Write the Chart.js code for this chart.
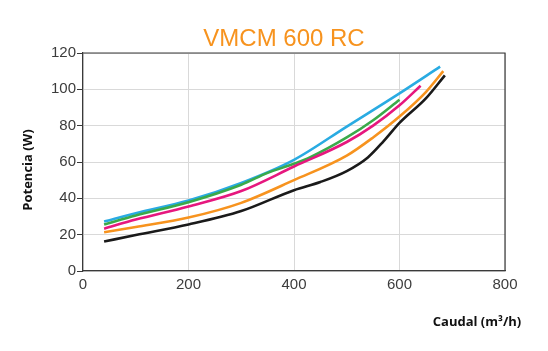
<!DOCTYPE html>
<html>
<head>
<meta charset="utf-8">
<script src="https://cdn.jsdelivr.net/npm/chart.js@4.4.0/dist/chart.umd.min.js"></script>
<style>
  html, body { margin: 0; padding: 0; background: #fff; }
  #wrap { width: 548px; height: 351px; }
</style>
</head>
<body>
<div id="wrap"><canvas id="potenciaChart" width="548" height="351"></canvas></div>
<script>
// curvas: [caudal m3/h, potencia W]
const curvaNegra = [[40,16.2],[100,19.8],[200,25.6],[300,33],[400,44.5],[450,49],[500,55],[540,62.5],[570,71.5],[600,81.5],[650,95],[686,107.7]];
const curvaNaranja = [[40,21.3],[100,24.2],[200,29.4],[300,37.5],[400,50],[500,63.5],[550,73.5],[600,85],[650,98.5],[683,110]];
const curvaMagenta = [[40,23.3],[100,28.3],[200,35.5],[300,44],[400,57.5],[500,71],[550,80],[600,91.2],[640,102]];
const curvaVerde = [[40,25.6],[100,30.6],[200,37.9],[300,47.5],[350,54],[400,59],[430,62.5],[500,73.5],[550,83],[600,94.3]];
const curvaAzul = [[40,27.2],[100,31.8],[200,38.8],[300,48.5],[400,61.2],[500,79.5],[600,97.8],[677,112.5]];

const xTicks = [0, 200, 400, 600, 800];
const yTicks = [0, 20, 40, 60, 80, 100, 120];

const titulo = 'VMCM 600 RC';
const tituloX = 'Caudal (m³/h)';
const tituloY = 'Potencia (W)';

const toPts = arr => arr.map(p => ({ x: p[0], y: p[1] }));

const serie = (data, color) => ({
  data: toPts(data),
  borderColor: color,
  borderWidth: 2.6,
  pointRadius: 0,
  fill: false,
  cubicInterpolationMode: 'monotone'
});

// titulo, nombres de ejes y marco
const textosPlugin = {
  id: 'textos',
  afterDraw(chart) {
    const ctx = chart.ctx;
    const a = chart.chartArea;
    ctx.save();
    ctx.strokeStyle = '#3a3a3a';
    ctx.lineWidth = 1.2;
    ctx.beginPath();
    ctx.moveTo(a.left, a.top);
    ctx.lineTo(a.right, a.top);
    ctx.lineTo(a.right, a.bottom);
    ctx.stroke();

    ctx.fillStyle = '#f7931e';
    ctx.font = '24px "Liberation Sans", Arial, sans-serif';
    ctx.textAlign = 'center';
    ctx.textBaseline = 'middle';
    ctx.fillText(titulo, 284, 39);

    ctx.fillStyle = '#111';
    ctx.font = 'bold 13px "Open Sans", "Liberation Sans", sans-serif';
    ctx.fillText(tituloX, 477, 322);

    ctx.translate(28, 170);
    ctx.rotate(-Math.PI / 2);
    ctx.fillText(tituloY, 0, 0);
    ctx.restore();
  }
};

new Chart(document.getElementById('potenciaChart'), {
  type: 'line',
  data: {
    datasets: [
      serie(curvaNegra, '#1a1a1a'),
      serie(curvaNaranja, '#f7931e'),
      serie(curvaMagenta, '#e6177e'),
      serie(curvaVerde, '#3aaa4a'),
      serie(curvaAzul, '#29abe2')
    ]
  },
  options: {
    responsive: false,
    animation: false,
    layout: { padding: { top: 53, right: 43, left: 0, bottom: 0 } },
    plugins: { legend: { display: false }, tooltip: { enabled: false } },
    scales: {
      x: {
        type: 'linear',
        min: 0,
        max: 800,
        afterBuildTicks: s => { s.ticks = xTicks.map(v => ({ value: v })); },
        afterFit: s => { s.height = 80; },
        grid: { color: '#d9d9d9', lineWidth: 1, drawTicks: false },
        border: { color: '#3a3a3a', width: 1.2 },
        ticks: { color: '#3c3c3c', font: { family: '"Liberation Sans", Arial, sans-serif', size: 15 }, padding: 5, maxRotation: 0 }
      },
      y: {
        min: 0,
        max: 120,
        afterBuildTicks: s => { s.ticks = yTicks.map(v => ({ value: v })); },
        afterFit: s => { s.width = 83; },
        grid: { color: '#d9d9d9', lineWidth: 1, tickLength: 6, tickColor: '#3a3a3a' },
        border: { color: '#3a3a3a', width: 1.2 },
        ticks: { color: '#3c3c3c', font: { family: '"Liberation Sans", Arial, sans-serif', size: 15 }, padding: 1 }
      }
    }
  },
  plugins: [textosPlugin]
});
</script>
</body>
</html>
